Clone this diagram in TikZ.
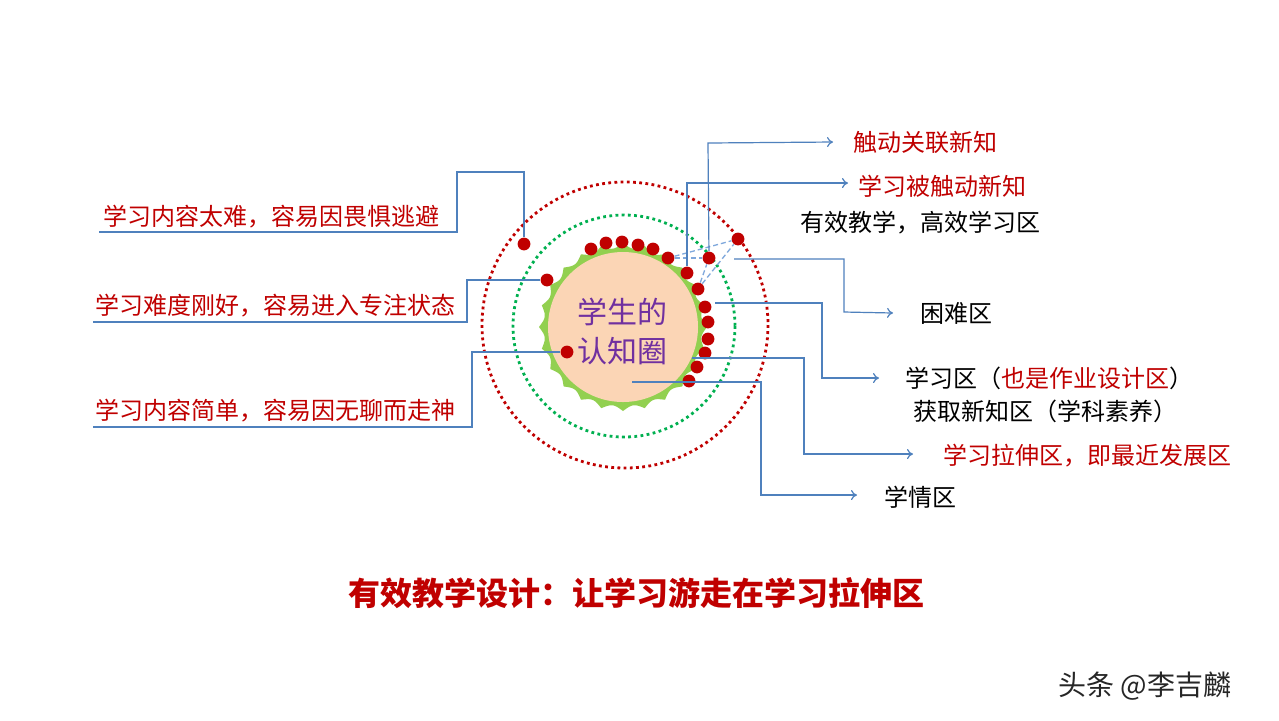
\documentclass[tikz,border=0pt]{standalone}
\usepackage{fontspec}
\setmainfont{Noto Sans CJK SC}
\usetikzlibrary{arrows.meta}

\definecolor{darkred}{HTML}{C00000}
\definecolor{linkblue}{HTML}{4F81BD}
\definecolor{dashblue}{HTML}{7FA8DC}
\definecolor{leafgreen}{HTML}{92D050}
\definecolor{peach}{HTML}{FBD5B5}
\definecolor{zonegreen}{HTML}{00B050}
\definecolor{corepurple}{HTML}{7030A0}

\tikzset{
  dot/.style={circle,fill=darkred,inner sep=0pt,minimum size=6.4pt},
  link/.style={draw=linkblue,line width=0.6pt},
  linkarrow/.style={link,-{To[length=3pt,width=5pt]}},
  hint/.style={draw=dashblue,dash pattern=on 2.5pt off 1.5pt,line width=0.65pt},
  zonetext/.style={inner sep=0pt,anchor=west,font=\fontsize{12}{14}\selectfont},
  redtext/.style={zonetext,text=darkred},
  blacktext/.style={zonetext,text=black}
}

\begin{document}
\begin{tikzpicture}[x=0.5pt,y=-0.5pt]
\useasboundingbox[fill=white] (0,0) rectangle (1279,720);

% zones
\draw[darkred,line width=1.4pt,dash pattern=on 1.4pt off 1.7pt] (625,325) circle (143);
\draw[zonegreen,line width=1.4pt,dash pattern=on 1.4pt off 1.7pt] (624,326) circle (111);
\fill[leafgreen] plot[domain=0:360,samples=361,variable=\t]
  ({623+(84-5*abs(sin(12*\t)))*cos(\t)},{327+(84-5*abs(sin(12*\t)))*sin(\t)}) -- cycle;
\fill[peach] (623,327) circle (75);
\node[text=corepurple,font=\fontsize{15}{19.5}\selectfont,align=center] (core) at (622,331) {学生的\\认知圈};

% dots
\node[dot] (toohard) at (524,244) {};
\node[dot] (justfit) at (547,280) {};
\node[dot] (tooeasy) at (567,352) {};
\foreach \x/\y [count=\i] in {591/249,606/243,622/242,638/245,653/249}
  \node[dot] (top\i) at (\x,\y) {};
\node[dot] (qa) at (668,258) {};
\node[dot] (qb) at (709,258) {};
\node[dot] (qc) at (738,239) {};
\node[dot] (qd) at (698,289) {};
\node[dot] (tlearn) at (687,273) {};
\foreach \x/\y [count=\i] in {705/307,708/322,708/339,705/353,697/367,689/381}
  \node[dot] (rim\i) at (\x,\y) {};

\draw[hint] (qa) -- (qc);
\draw[hint] (qa) -- (qb);
\draw[hint] (qd) -- (qb);
\draw[hint] (qd) -- (qc);

% left labels
\node[redtext] (hardtxt) at (103,217) {学习内容太难，容易因畏惧逃避};
\node[redtext] (fittxt) at (95,306) {学习难度刚好，容易进入专注状态};
\node[redtext] (easytxt) at (95,411) {学习内容简单，容易因无聊而走神};
\coordinate (hardend) at (99,232);
\coordinate (fitend) at (93,322);
\coordinate (easyend) at (93,427);

\draw[link] (toohard) -- (524,172) -- (457,172) -- (457,232) -- (hardend);
\draw[link] (justfit) -- (467,280) -- (467,322) -- (fitend);
\draw[link] (tooeasy) -- (472,352) -- (472,427) -- (easyend);

% right labels
\node[redtext] (touchtxt) at (853,142) {触动关联新知};
\node[redtext] (learntxt) at (858,186) {学习被触动新知};
\node[blacktext] (goodtxt) at (800,223) {有效教学，高效学习区};
\node[blacktext] (hardzone) at (920,313) {困难区};
\node[blacktext] (studyzone) at (905,378) {学习区（\textcolor{darkred}{也是作业设计区}）};
\node[blacktext] (newzone) at (913,411) {获取新知区（学科素养）};
\node[redtext] (stretchzone) at (943,456) {学习拉伸区，即最近发展区};
\node[blacktext] (basezone) at (884,497) {学情区};

\coordinate (hardstart) at (734,259);
\coordinate (studystart) at (715,303);
\coordinate (stretchstart) at (692,358);
\coordinate (basestart) at (632,382);

\draw[linkarrow] (qb) -- (708,143) -- ([xshift=-10pt]touchtxt.west);
\draw[linkarrow] (tlearn) -- (687,183) -- ([xshift=-5pt]learntxt.west |- 0,183);
\draw[linkarrow] (hardstart) -- (844,259) -- (844,312) -- ([xshift=-13.5pt]hardzone.west);
\draw[linkarrow] (studystart) -- (822,303) -- (822,378) -- ([xshift=-13pt]studyzone.west);
\draw[linkarrow] (stretchstart) -- (804,358) -- (804,454) -- ([xshift=-15pt]stretchzone.west |- 0,454);
\draw[linkarrow] (basestart) -- (761,382) -- (761,495) -- ([xshift=-13.5pt]basezone.west |- 0,495);

% title and mark
\node[text=darkred,font=\fontsize{16}{18}\selectfont\bfseries] (title) at (636,593) {有效教学设计：让学习游走在学习拉伸区};
\node[text=black!85,font=\fontsize{14}{16}\selectfont] (mark) at (1145,686) {头条 @李吉麟};
\end{tikzpicture}
\end{document}
